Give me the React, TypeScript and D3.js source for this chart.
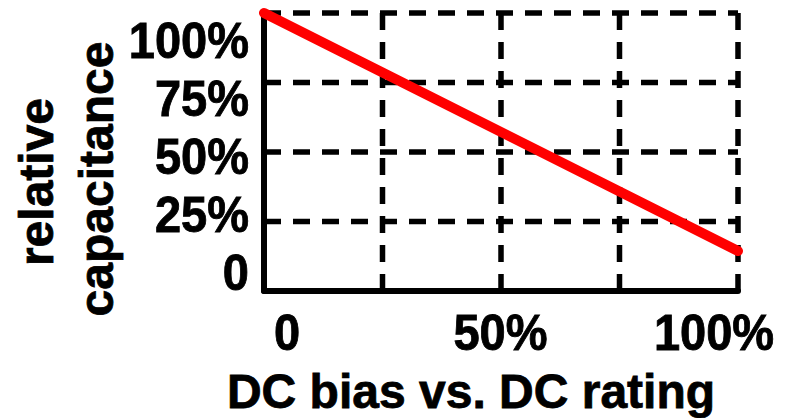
import React from "react";
import * as d3 from "d3";

const W = 786;
const H = 418;

// data
const biasPoints = [0, 1];
const capValues = [1.0, 0.144];
const gridSteps = [0, 0.25, 0.5, 0.75, 1];
const xTickValues = [0, 0.5, 1];
const xTickLabels = ["0", "50%", "100%"];
const yTickValues = [0, 0.25, 0.5, 0.75, 1];
const yTickLabels = ["0", "25%", "50%", "75%", "100%"];
const xTitle = "DC bias vs. DC rating";
const yTitleLines = ["relative", "capacitance"];

export default function App() {
  const x = d3.scaleLinear().domain([0, 1]).range([264, 738]);
  const y = d3.scaleLinear().domain([0, 1]).range([291, 13]);
  const xLabel = d3.scaleLinear().domain([0, 1]).range([287, 714]);
  const yLabel = d3.scaleLinear().domain([0, 1]).range([290, 58]);

  const line = d3
    .line<number>()
    .x((_, i) => x(biasPoints[i]))
    .y((d) => y(d));

  const font = "'Liberation Sans', Arial, Helvetica, sans-serif";

  return (
    <svg
      width={W}
      height={H}
      style={{ position: "absolute", left: 0, top: 0, background: "#fff" }}
    >
      {/* grid */}
      <g stroke="#000" strokeWidth={5.5} strokeDasharray="17 12" fill="none">
        {gridSteps.slice(1).map((v) => (
          <line key={"h" + v} x1={x(0)} x2={x(1)} y1={y(v)} y2={y(v)} />
        ))}
        {gridSteps.slice(1).map((v) => (
          <line key={"v" + v} x1={x(v)} x2={x(v)} y1={y(1)} y2={y(0)} />
        ))}
      </g>
      {/* axes */}
      <g stroke="#000" strokeWidth={6} fill="none" strokeLinecap="round">
        <line x1={x(0)} x2={x(0)} y1={y(1)} y2={y(0)} />
        <line x1={x(0)} x2={x(1)} y1={y(0)} y2={y(0)} />
      </g>
      {/* data line */}
      <path
        d={line(capValues) || ""}
        stroke="#ff0000"
        strokeWidth={10}
        strokeLinecap="round"
        fill="none"
      />
      {/* tick labels */}
      <g
        fontFamily={font}
        fontWeight="bold"
        fontSize={47}
        fill="#000"
        stroke="#000"
        strokeWidth={0.8}
      >
        {xTickValues.map((v, i) => (
          <text
            key={"xt" + v}
            transform={`translate(${xLabel(v)},350) scale(1,1.06)`}
            textAnchor="middle"
          >
            {xTickLabels[i]}
          </text>
        ))}
        {yTickValues.map((v, i) => (
          <text
            key={"yt" + v}
            transform={`translate(249,${yLabel(v)}) scale(1,1.08)`}
            textAnchor="end"
          >
            {yTickLabels[i]}
          </text>
        ))}
      </g>
      {/* titles */}
      <g
        fontFamily={font}
        fontWeight="bold"
        fontSize={48}
        fill="#000"
        stroke="#000"
        strokeWidth={0.8}
      >
        <text x={471} y={408} textAnchor="middle">
          {xTitle}
        </text>
        {yTitleLines.map((t, i) => (
          <text
            key={t}
            transform={`translate(${53 + i * 60},${182 - i * 3}) rotate(-90)`}
            textAnchor="middle"
          >
            {t}
          </text>
        ))}
      </g>
    </svg>
  );
}
